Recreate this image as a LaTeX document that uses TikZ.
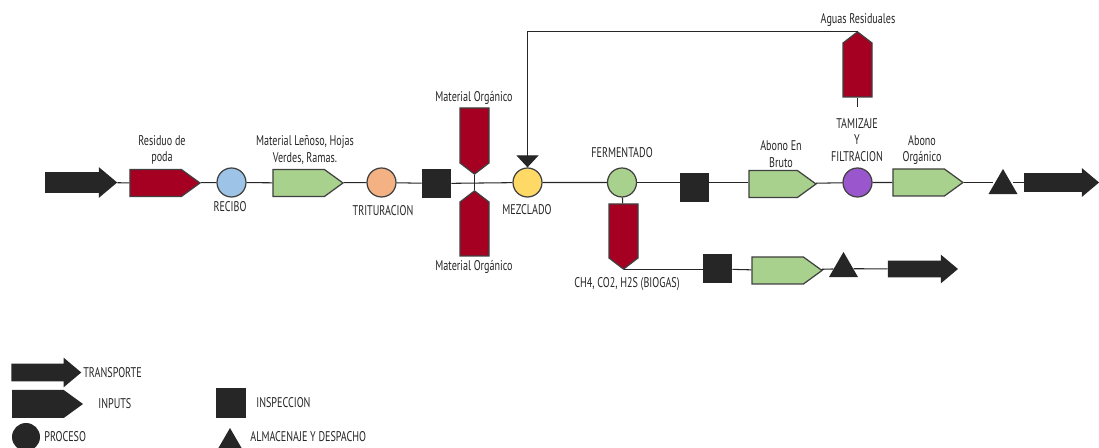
\documentclass[tikz,border=0pt]{standalone}
\usepackage{fontspec}
\setmainfont{PT Sans}[FakeStretch=0.72]
\usepackage{tikz}
\usetikzlibrary{arrows.meta,positioning,shapes.geometric,shapes.symbols,shapes.arrows}
\definecolor{InRed}{HTML}{A50021}
\definecolor{InGreen}{HTML}{A9D18E}
\definecolor{ProcBlue}{HTML}{9DC3E6}
\definecolor{ProcOrange}{HTML}{F4B183}
\definecolor{ProcYellow}{HTML}{FFD966}
\definecolor{ProcGreen}{HTML}{A9D18E}
\definecolor{ProcPurple}{HTML}{9A57CD}
\definecolor{FlowBlack}{HTML}{262626}
\definecolor{EdgeGray}{HTML}{404040}

\begin{document}
\begin{tikzpicture}[
  x=0.02cm, y=-0.02cm,
  font=\fontsize{8}{9.6}\selectfont,
  lbl/.style={inner sep=0, align=center, text=FlowBlack},
  proc/.style={circle, draw=EdgeGray, line width=0.7pt, minimum size=5.8mm, inner sep=0},
  insp/.style={rectangle, fill=FlowBlack, minimum size=5.8mm, inner sep=0},
  store/.style={regular polygon, regular polygon sides=3, fill=FlowBlack, minimum size=6.7mm, inner sep=0},
  inpt/.style={signal, signal to=east, signal pointer angle=72, draw=EdgeGray, line width=0.7pt, minimum width=14mm, minimum height=5.4mm, inner sep=0},
  inred/.style={inpt, fill=InRed},
  ingreen/.style={inpt, fill=InGreen},
  vred/.style={signal, signal pointer angle=105, draw=EdgeGray, line width=0.7pt, fill=InRed, minimum width=5.8mm, minimum height=10.8mm, inner sep=0},
  transp/.style={single arrow, fill=FlowBlack, single arrow head extend=1mm, single arrow tip angle=80, inner xsep=0, inner ysep=2mm, minimum width=6mm, minimum height=14.4mm},
  conn/.style={draw=FlowBlack, line width=0.6pt},
  fb/.style={conn, -{Triangle[width=4.4mm, length=2.4mm]}}
]
  \useasboundingbox (0,0) rectangle (1099,448);

  % main line
  \node[transp] (tin) at (75,182.5) {};
  \node[inred] (residuo) at (155.7,183) {};
  \node[proc, fill=ProcBlue] (recibo) at (231.5,182.5) {};
  \node[ingreen] (lenoso) at (298.7,183) {};
  \node[proc, fill=ProcOrange] (tritur) at (381.5,182.5) {};
  \node[insp] (insp1) at (436.5,183.5) {};
  \node[vred, signal to=south, minimum height=11mm] (orgtop) at (474.5,135.5) {};
  \node[vred, signal to=north] (orgbot) at (474.5,229) {};
  \node[proc, fill=ProcYellow] (mezcla) at (527.5,182.5) {};
  \node[proc, fill=ProcGreen] (ferm) at (622,182.5) {};
  \node[insp] (insp2) at (694.5,188) {};
  \node[ingreen, minimum width=13.4mm] (bruto) at (773.2,184) {};
  \node[proc, fill=ProcPurple] (tamiz) at (857.5,182.5) {};
  \node[ingreen] (organico) at (918.7,182.5) {};
  \node[store] (alm1) at (1003,185.7) {};
  \node[transp, inner ysep=1.8mm, minimum width=5.6mm, minimum height=15mm] (tout) at (1056,182.5) {};

  % aguas residuales
  \node[vred, signal to=north] (aguas) at (857.5,70) {};
  \coordinate (aguasend) at (857.5,107);

  % biogas
  \node[vred, signal to=south] (biogas) at (623.5,231) {};
  \node[insp] (insp3) at (717.5,269) {};
  \node[ingreen] (gasverde) at (777.7,270.5) {};
  \node[store] (alm2) at (843.5,268.7) {};
  \node[transp, inner ysep=1.6mm, single arrow head extend=1.2mm, minimum width=5.6mm, minimum height=14mm] (tgas) at (918,269) {};

  % labels
  \node[lbl] (lresiduo) at (162,150) {Residuo de\\poda};
  \node[lbl] (llenoso) at (305,150) {Material Leñoso, Hojas\\Verdes, Ramas.};
  \node[lbl] (lrecibo) at (230,207) {RECIBO};
  \node[lbl] (ltritur) at (383,211) {TRITURACION};
  \node[lbl] (lorgtop) at (474,98) {Material Orgánico};
  \node[lbl] (lorgbot) at (474,267) {Material Orgánico};
  \node[lbl] (lmezcla) at (527,210) {MEZCLADO};
  \node[lbl] (lferm) at (622,153) {FERMENTADO};
  \node[lbl] (lbiogas) at (627,284) {CH4, CO2, H2S (BIOGAS)};
  \node[lbl] (laguas) at (858,20) {Aguas Residuales};
  \node[lbl] (lbruto) at (781,154) {Abono En\\Bruto};
  \node[lbl] (ltamiz) at (857,140) {TAMIZAJE\\Y\\FILTRACION};
  \node[lbl] (lorganico) at (922,150) {Abono\\Orgánico};

  % connectors
  \draw[conn] (tin) -- (residuo) -- (recibo) -- (lenoso) -- (tritur) -- (insp1) -- (mezcla) -- (ferm);
  \draw[conn] (orgtop) -- (orgbot);
  \draw[conn] (ferm.east) -- (ferm.east -| insp2.west);
  \draw[conn] (insp2.east |- ferm.east) -- (bruto.west |- ferm.east);
  \draw[conn] (bruto) -- (tamiz) -- (organico);
  \draw[conn] (organico.east) -- (organico.east -| alm1.west);
  \draw[conn] (alm1.east |- tout.west) -- (tout.west);
  \draw[conn] (aguas.south) -- (aguasend);
  \draw[fb] (aguas.north) -| (mezcla.north);
  \draw[conn] (ferm) -- (biogas);
  \draw[conn] (biogas.south) -- (biogas.south -| insp3.west);
  \draw[conn] (insp3) -- (gasverde) -- (alm2) -- (tgas);

  % legend
  \node[transp, inner ysep=1.7mm, single arrow head extend=1.2mm, minimum width=5.8mm, minimum height=14mm] (legtransp) at (41,372.5) {};
  \node[inpt, fill=FlowBlack, draw=none, minimum width=14.2mm, minimum height=5.6mm] (leginput) at (37.9,404) {};
  \node[proc, fill=FlowBlack, draw=none, minimum size=5.6mm] (legproc) at (26,437) {};
  \node[insp, minimum size=6mm] (leginsp) at (231,403.5) {};
  \node[store, minimum size=6mm] (legstore) at (230,443) {};
  \node[lbl, anchor=west] (ltransp) at (83,373) {TRANSPORTE};
  \node[lbl, anchor=west] (linput) at (98,404) {INPUTS};
  \node[lbl, anchor=west] (lproc) at (44,437) {PROCESO};
  \node[lbl, anchor=west] (linsp) at (256,403) {INSPECCION};
  \node[lbl, anchor=west] (lstore) at (250,437) {ALMACENAJE Y DESPACHO};
\end{tikzpicture}
\end{document}
